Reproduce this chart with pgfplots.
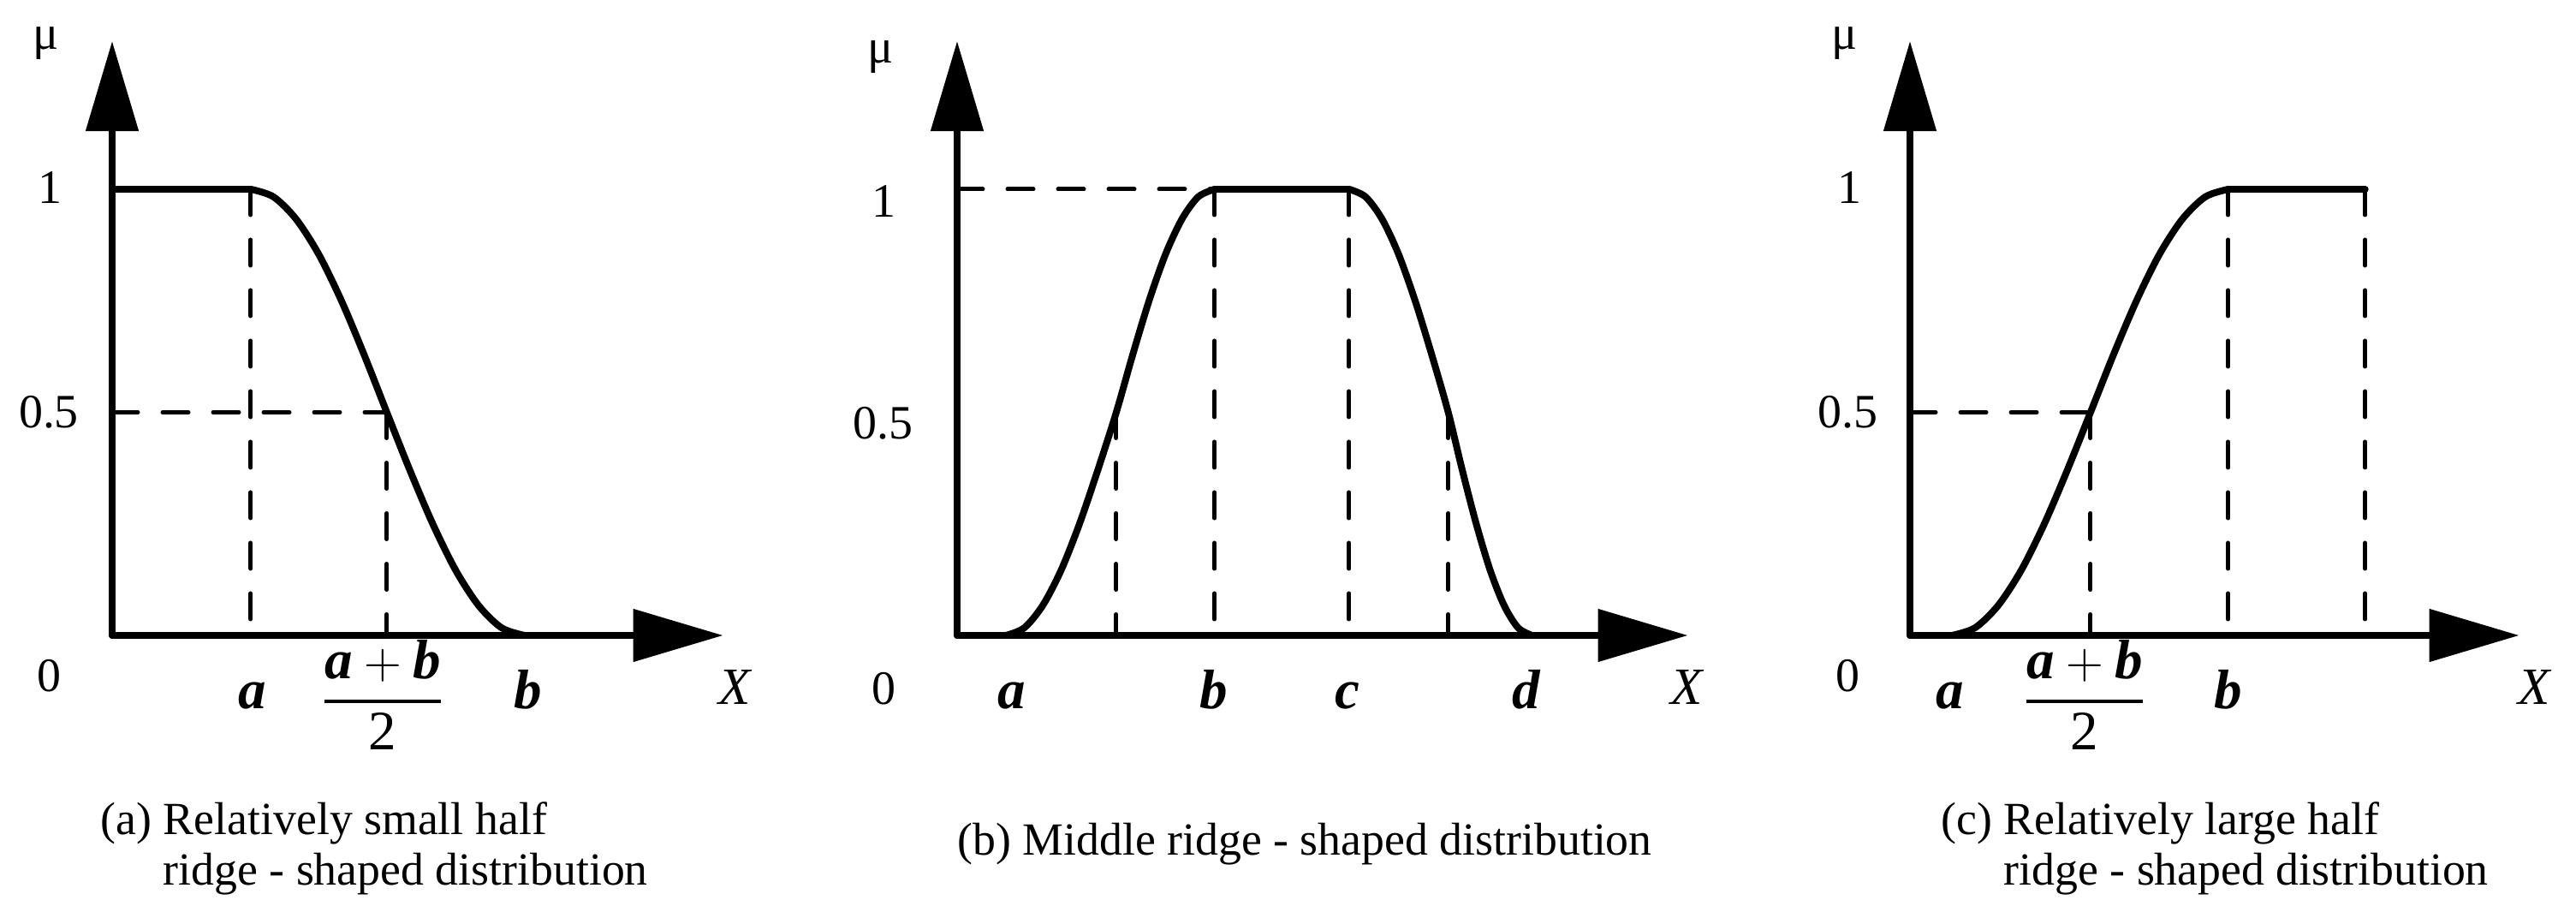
\documentclass[border=0pt]{standalone}
\usepackage{fontspec}
\setmainfont{Liberation Serif}
\usepackage{amsmath}
\usepackage{pgfplots}
\pgfplotsset{compat=1.18}
\usetikzlibrary{arrows.meta}

% 1 px of the reference = 0.01cm, y unit: 521 px per membership unit
\pgfplotsset{
  ridge/.style={
    anchor=origin, x=0.01cm, y=5.21cm,
    xmin=0, ymin=0, ymax=1.332,
    enlargelimits=false,
    axis lines=left,
    axis line style={line width=0.08cm, line cap=round,
      -{Triangle[length=1.05cm,width=0.6cm]}},
    xtick=\empty, ytick=\empty,
    clip=false,
  },
  flat/.style={black, line width=0.08cm, line cap=round},
  curve/.style={black, line width=0.08cm, smooth, line join=round, line cap=round},
  guide/.style={black, line width=0.05cm, line cap=round, dash pattern=on 0.30cm off 0.29cm},
}
\tikzset{
  mu/.style={anchor=base, inner sep=0pt, font=\fontsize{16}{18}\selectfont},
  tk/.style={anchor=base, inner sep=0pt, font=\fontsize{15.9}{18}\selectfont},
  lab/.style={anchor=base, inner sep=0pt, font=\fontsize{18.5}{20}\selectfont},
  xl/.style={anchor=base, inner sep=0pt, font=\fontsize{17.4}{20}\selectfont\itshape},
  capt/.style={anchor=base west, inner sep=0pt, font=\fontsize{15.3}{17}\selectfont},
}
\newcommand{\bi}[1]{\textbf{\textit{#1}}}
\newcommand{\halfab}{$\genfrac{}{}{1.1pt}{0}{\text{\bi{a}}+\text{\bi{b}}}{\text{2}}$}

\begin{document}
\begin{tikzpicture}
\path (0,0) rectangle (30.09,-10.72);

% (a) relatively small half ridge
\begin{axis}[ridge, at={(1.31cm,-7.42cm)}, xmax=714]
\addplot[guide] coordinates {(162,1) (162,0)};
\addplot[guide] coordinates {(0,0.5) (321,0.5)};
\addplot[guide] coordinates {(321,0.5) (321,0)};
\addplot[flat] coordinates {(0,1) (162,1)};
\addplot[curve] coordinates {(162,1) (188.5,0.983) (215,0.933) (241.5,0.854) (268,0.75) (294.5,0.629) (321,0.5) (347.8,0.371) (374.7,0.25) (401.5,0.146) (428.3,0.067) (455.2,0.017) (482,0)};
\end{axis}

% (b) middle ridge
\begin{axis}[ridge, at={(11.18cm,-7.42cm)}, xmax=854]
\addplot[guide] coordinates {(0,1) (301,1)};
\addplot[guide] coordinates {(186,0.5) (186,0)};
\addplot[guide] coordinates {(301,1) (301,0)};
\addplot[guide] coordinates {(458,1) (458,0)};
\addplot[guide] coordinates {(574,0.5) (574,0)};
\addplot[curve] coordinates {(57,0) (78.5,0.017) (100,0.067) (121.5,0.146) (143,0.25) (164.5,0.371) (186,0.5) (205.2,0.629) (224.3,0.75) (243.5,0.854) (262.7,0.933) (281.8,0.983) (301,1)};
\addplot[flat] coordinates {(301,1) (458,1)};
\addplot[curve] coordinates {(458,1) (477.3,0.983) (496.7,0.933) (516,0.854) (535.3,0.75) (554.7,0.629) (574,0.5) (590.3,0.371) (606.7,0.25) (623,0.146) (639.3,0.067) (655.7,0.017) (672,0)};
\end{axis}

% (c) relatively large half ridge
\begin{axis}[ridge, at={(22.31cm,-7.42cm)}, xmax=712]
\addplot[guide] coordinates {(0,0.5) (211,0.5)};
\addplot[guide] coordinates {(211,0.5) (211,0)};
\addplot[guide] coordinates {(372,1) (372,0)};
\addplot[guide] coordinates {(532,1) (532,0)};
\addplot[curve] coordinates {(49,0) (76,0.017) (103,0.067) (130,0.146) (157,0.25) (184,0.371) (211,0.5) (237.8,0.629) (264.7,0.75) (291.5,0.854) (318.3,0.933) (345.2,0.983) (372,1)};
\addplot[flat] coordinates {(372,1) (532,1)};
\end{axis}

% labels (a)
\node[mu] at (0.54,-0.58) {μ};
\node[tk] at (0.58,-2.38) {1};
\node[tk] at (0.57,-5.00) {0.5};
\node[tk] at (0.57,-8.08) {0};
\node[lab] at (2.95,-8.27) {\bi{a}};
\node[lab] at (4.47,-8.34) {\halfab};
\node[lab] at (6.17,-8.27) {\bi{b}};
\node[xl] at (8.58,-8.23) {X};
\node[capt] at (1.17,-9.74) {(a) Relatively small half};
\node[capt] at (1.90,-10.33) {ridge - shaped distribution};

% labels (b)
\node[mu] at (10.29,-0.74) {μ};
\node[tk] at (10.32,-2.54) {1};
\node[tk] at (10.31,-5.13) {0.5};
\node[tk] at (10.32,-8.23) {0};
\node[lab] at (11.82,-8.27) {\bi{a}};
\node[lab] at (14.18,-8.27) {\bi{b}};
\node[lab] at (15.74,-8.27) {\bi{c}};
\node[lab] at (17.83,-8.27) {\bi{d}};
\node[xl] at (19.70,-8.23) {X};
\node[capt] at (11.18,-9.98) {(b) Middle ridge - shaped distribution};

% labels (c)
\node[mu] at (21.55,-0.58) {μ};
\node[tk] at (21.60,-2.38) {1};
\node[tk] at (21.58,-5.00) {0.5};
\node[tk] at (21.58,-8.08) {0};
\node[lab] at (22.78,-8.27) {\bi{a}};
\node[lab] at (24.35,-8.34) {\halfab};
\node[lab] at (26.03,-8.27) {\bi{b}};
\node[xl] at (29.60,-8.23) {X};
\node[capt] at (22.67,-9.74) {(c) Relatively large half};
\node[capt] at (23.40,-10.33) {ridge - shaped distribution};
\end{tikzpicture}
\end{document}
